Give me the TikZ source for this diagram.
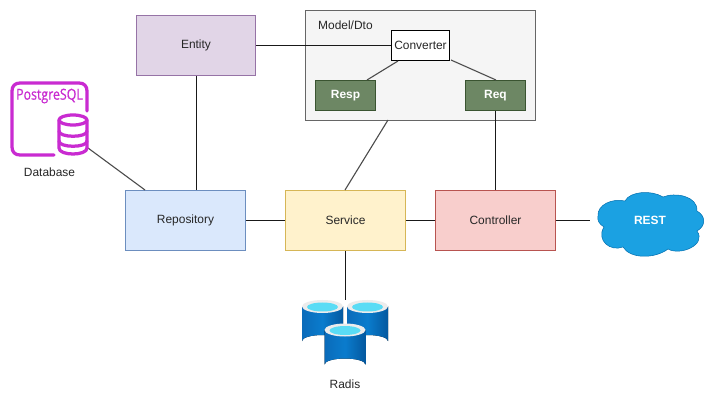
\documentclass[tikz,border=0pt]{standalone}
\usepackage{fontspec}
\setmainfont{Liberation Sans}
\newfontfamily\iconfont[FakeStretch=0.82,FakeBold=0.6]{Open Sans}
\definecolor{pgpurple}{HTML}{C92BD1}
\definecolor{cylleft}{HTML}{0A6BBA}
\definecolor{cylmid}{HTML}{0A7CCD}
\definecolor{cylright}{HTML}{04589F}
\definecolor{cyltop}{HTML}{5ADCF5}
\definecolor{respgreen}{HTML}{6D8764}
\definecolor{respline}{HTML}{3A5431}
\tikzset{
	x=0.02cm,y=-0.02cm,
	every node/.style={font=\fontsize{6.8pt}{8pt}\selectfont,text=black!85},
	box/.style={draw,minimum width=2.4cm,minimum height=1.2cm,line width=0.02cm,inner sep=0pt},
	smallbox/.style={draw=respline,fill=respgreen,text=white,font=\fontsize{6.8pt}{8pt}\selectfont\bfseries,minimum width=1.2cm,minimum height=0.6cm,line width=0.02cm,inner sep=0pt},
	link/.style={line width=0.02cm,black!90},
	slantlink/.style={line width=0.022cm,black!70},
	pgline/.style={draw=pgpurple,line width=0.065cm,line cap=round,line join=round},
}
\newcommand{\drawcyl}[2]{
	\fill[left color=cylleft,right color=cylright,middle color=cylmid] (#1-20.5,#2) -- (#1-20.5,#2+34.5) arc (180:360:20.5 and 6) -- (#1+20.5,#2) -- cycle;
	\fill[gray!15] (#1,#2) ellipse (20.5 and 6.5);
	\fill[cyltop] (#1,#2+0.5) ellipse (15.5 and 4.5);
}
\begin{document}
\begin{tikzpicture}
	\useasboundingbox (0,0) rectangle (721,402);
	\fill[white] (0,0) rectangle (721,402);

	\node[box,draw=black!60,fill=black!4,minimum width=4.6cm,minimum height=2.2cm] (model) at (420.5,65.5) {};
	\node[anchor=west] (modelname) at (312,25) {Model/Dto};
	\node[box,draw=black,fill=white,minimum width=1.16cm,minimum height=0.62cm] (converter) at (420.5,45.5) {Converter};
	\node[smallbox] (resp) at (345.5,95.5) {Resp};
	\node[smallbox] (req) at (495.5,95.5) {Req};

	\node[box,draw={rgb,255:red,150;green,115;blue,166},fill={rgb,255:red,225;green,213;blue,231}] (entity) at (196,45.5) {Entity};
	\node[box,draw={rgb,255:red,108;green,142;blue,191},fill={rgb,255:red,218;green,232;blue,252}] (repository) at (185.5,220.5) {Repository};
	\node[box,draw={rgb,255:red,214;green,182;blue,86},fill={rgb,255:red,255;green,242;blue,204}] (service) at (345.5,220.5) {Service};
	\node[box,draw={rgb,255:red,184;green,84;blue,80},fill={rgb,255:red,248;green,206;blue,204}] (controller) at (495.5,220.5) {Controller};

	% links
	\coordinate (dbend) at (88,148);
	\coordinate (repotop) at (145,190);
	\coordinate (modelfoot) at (388,120);
	\coordinate (servicetop) at (345,190);
	\coordinate (resttip) at (590,220.5);
	\coordinate (radistop) at (345.5,300);
	\coordinate (convleft) at (398,61);
	\coordinate (resptop) at (367,80);
	\coordinate (convright) at (451,60);
	\coordinate (reqtop) at (496,80);
	\draw[link] (entity.east) -- (converter.west);
	\draw[slantlink] (convleft) -- (resptop);
	\draw[slantlink] (convright) -- (reqtop);
	\draw[link] (entity.south) -- (entity.south |- repository.north);
	\draw[slantlink] (dbend) -- (repotop);
	\draw[slantlink] (modelfoot) -- (servicetop);
	\draw[link] (req.south) -- (controller.north);
	\draw[link] (repository.east) -- (service.west);
	\draw[link] (service.east) -- (controller.west);
	\draw[link] (controller.east) -- (resttip);
	\draw[link] (service.south) -- (radistop);

	% postgres icon
	\draw[pgline] (87,111) -- (87,91) .. controls (87,86) and (84,83) .. (79,83) -- (20,83) .. controls (15,83) and (12,86) .. (12,91) -- (12,147) .. controls (12,152) and (15,155) .. (20,155) -- (54,155);
	\draw[pgline] (59,120) -- (59,148) .. controls (59,156) and (87,156) .. (87,148) -- (87,120);
	\draw[pgline] (73,120) ellipse (14 and 5);
	\draw[pgline] (59,131) .. controls (59,138) and (87,138) .. (87,131);
	\draw[pgline] (59,141) .. controls (59,148) and (87,148) .. (87,141);
	\node[text=pgpurple,font=\iconfont\fontsize{8.6pt}{10pt}\selectfont,inner sep=0pt] (pgname) at (49.5,96) {PostgreSQL};
	\node (database) at (49.5,172) {Database};

	% radis cylinders
	\drawcyl{322.5}{306.5}
	\drawcyl{367.5}{306.5}
	\drawcyl{345}{330}
	\node (radis) at (345,384) {Radis};

	% rest cloud
	\fill[fill={rgb,255:red,27;green,161;blue,226},draw={rgb,255:red,0;green,110;blue,175},line width=0.01cm]
		(598,216) .. controls (597,205) and (612,198) .. (625,201)
		.. controls (630,191) and (652,190) .. (663,197)
		.. controls (675,192) and (698,196) .. (697,211)
		.. controls (706,216) and (706,226) .. (697,231)
		.. controls (707,245) and (680,256) .. (668,249)
		.. controls (655,259) and (630,259) .. (623,247)
		.. controls (610,252) and (596,240) .. (604,227)
		.. controls (599,224) and (597,220) .. (598,216) -- cycle;
	\node[text=white,font=\fontsize{6.8pt}{8pt}\selectfont\bfseries] (rest) at (650,220) {REST};
\end{tikzpicture}
\end{document}
